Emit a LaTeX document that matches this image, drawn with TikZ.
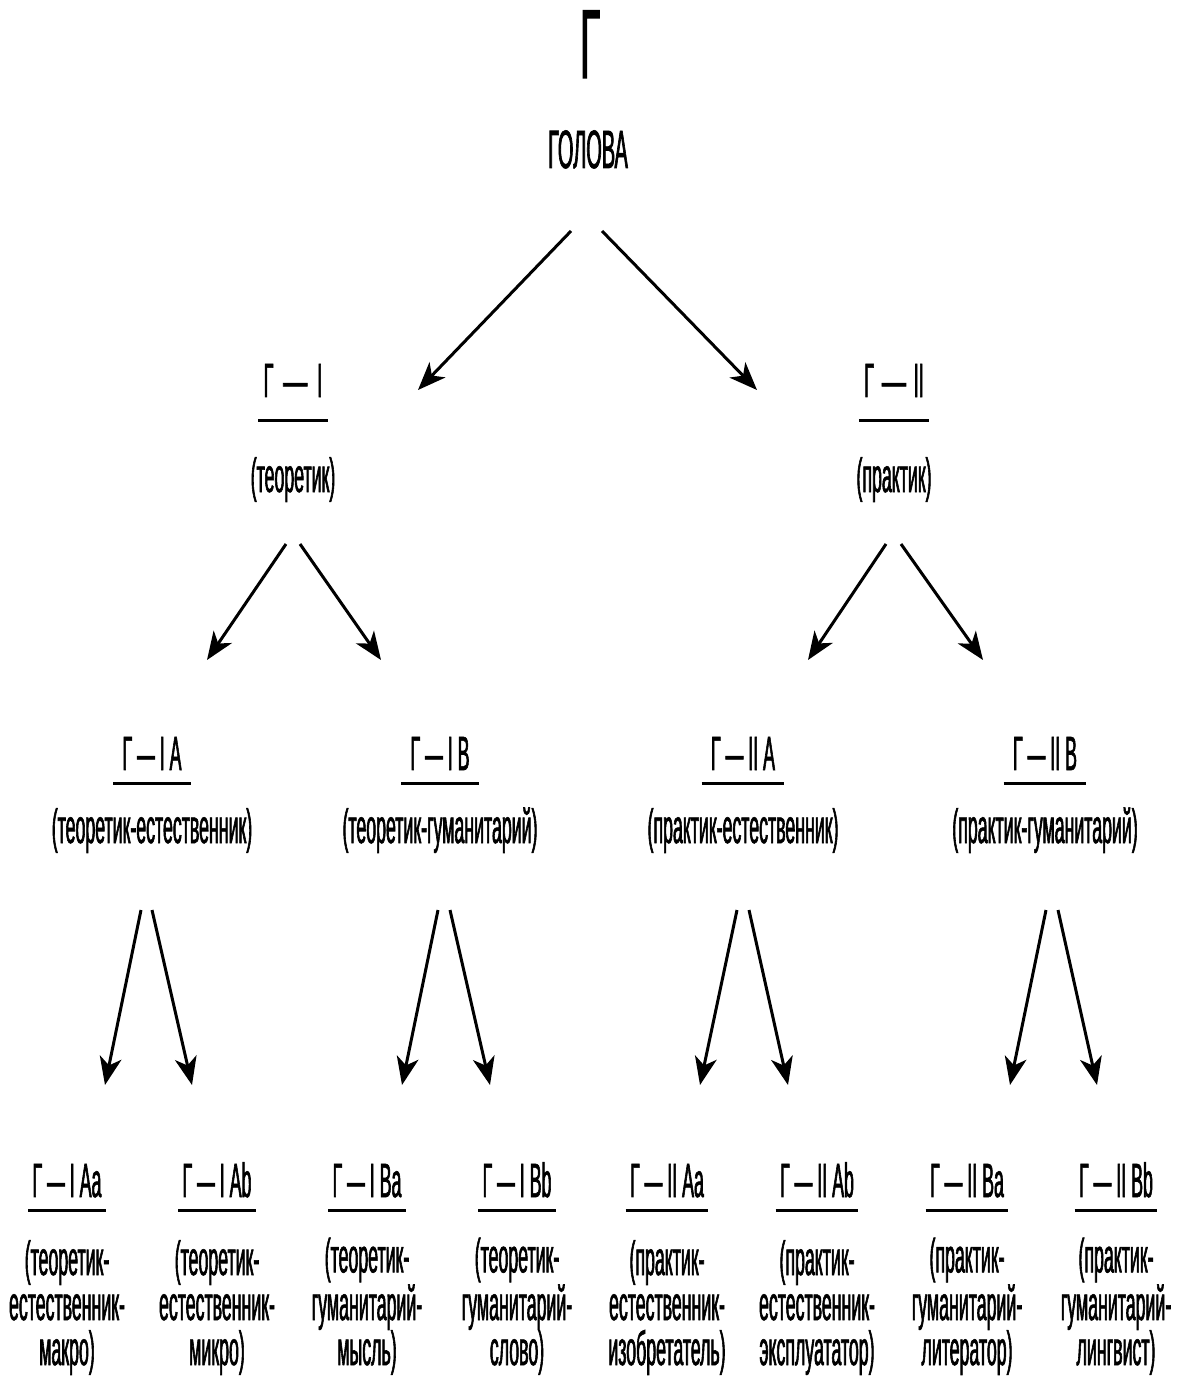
\documentclass[tikz,border=0pt]{standalone}
\usepackage{fontspec}
\usepackage{graphicx}
\setmainfont{Liberation Sans}[FakeStretch=0.37,FakeBold=1.2]
\usetikzlibrary{arrows.meta}
\newcommand\mklab[6][]{%
  \node[lab,#1] (#2) at (#3,#4) {#5};
  \draw[ul] (#2.west |- 0,#6) -- (#2.east |- 0,#6);}
\newcommand\longdash{\scalebox{1.35}[1]{—}}
\begin{document}
\begin{tikzpicture}[x=0.5pt,y=-0.5pt,
  lab/.style={font=\fontsize{24}{24}\selectfont, anchor=base, inner xsep=2pt, inner ysep=0pt},
  desc/.style={font=\fontsize{24}{22.5}\selectfont, anchor=base, inner sep=0pt, align=center},
  ul/.style={line width=1.5pt},
  arr/.style={line width=1.5pt, -{Stealth[length=14pt,width=11pt,inset=4pt]}}]
\useasboundingbox (0,0) rectangle (1183,1390);
% top
\node[anchor=base, inner sep=0pt, font=\fontsize{49}{49}\selectfont] (gam) at (590,78) {Г};
\node[anchor=base, inner sep=0pt, font=\fontsize{27}{27}\selectfont] (head) at (588,168) {ГОЛОВА};
% level 1
\mklab[inner xsep=2.5pt]{l1}{293}{397}{Г\hspace{5pt}\longdash\hspace{5pt}I}{420}
\node[desc] (d1) at (293,492) {(теоретик)};
\mklab[inner xsep=2.5pt]{r1}{894}{397}{Г\hspace{4pt}\longdash\hspace{4pt}II}{420}
\node[desc] (d2) at (894,492) {(практик)};
% level 2
\mklab[inner xsep=4.5pt]{la}{152}{770}{Г — I A}{783}
\node[desc] (dla) at (152,843) {(теоретик-естественник)};
\mklab[inner xsep=4.5pt]{lb}{440}{770}{Г — I B}{783}
\node[desc] (dlb) at (440,843) {(теоретик-гуманитарий)};
\mklab[inner xsep=4.5pt]{ra}{743}{770}{Г — II A}{783}
\node[desc] (dra) at (743,843) {(практик-естественник)};
\mklab[inner xsep=4.5pt]{rb}{1045}{770}{Г — II B}{783}
\node[desc] (drb) at (1045,843) {(практик-гуманитарий)};
% level 3
\mklab{laa}{67}{1197}{Г — I Aa}{1210}
\node[desc] (dlaa) at (67,1365) {(теоретик-\\естественник-\\макро)};
\mklab{lab}{217}{1197}{Г — I Ab}{1210}
\node[desc] (dlab) at (217,1365) {(теоретик-\\естественник-\\микро)};
\mklab{lba}{367}{1197}{Г — I Ba}{1210}
\node[desc] (dlba) at (367,1365) {(теоретик-\\гуманитарий-\\мысль)};
\mklab{lbb}{517}{1197}{Г — I Bb}{1210}
\node[desc] (dlbb) at (517,1365) {(теоретик-\\гуманитарий-\\слово)};
\mklab{raa}{667}{1197}{Г — II Aa}{1210}
\node[desc] (draa) at (667,1365) {(практик-\\естественник-\\изобретатель)};
\mklab{rab}{817}{1197}{Г — II Ab}{1210}
\node[desc] (drab) at (817,1365) {(практик-\\естественник-\\эксплуататор)};
\mklab{rba}{967}{1197}{Г — II Ba}{1210}
\node[desc] (drba) at (967,1365) {(практик-\\гуманитарий-\\литератор)};
\mklab{rbb}{1116}{1197}{Г — II Bb}{1210}
\node[desc] (drbb) at (1116,1365) {(практик-\\гуманитарий-\\лингвист)};
% arrow end points
\coordinate (s0a) at (571,231); \coordinate (e0a) at (418,390);
\coordinate (s0b) at (602,231); \coordinate (e0b) at (757,390);
\coordinate (s1a) at (286,544); \coordinate (e1a) at (207,660);
\coordinate (s1b) at (300,544); \coordinate (e1b) at (381,660);
\coordinate (s2a) at (886,544); \coordinate (e2a) at (808,660);
\coordinate (s2b) at (901,544); \coordinate (e2b) at (983,660);
\coordinate (s3a) at (141,910); \coordinate (e3a) at (105,1085);
\coordinate (s3b) at (152,910); \coordinate (e3b) at (192,1085);
\coordinate (s4a) at (438,910); \coordinate (e4a) at (402,1085);
\coordinate (s4b) at (450,910); \coordinate (e4b) at (490,1085);
\coordinate (s5a) at (737,910); \coordinate (e5a) at (700,1085);
\coordinate (s5b) at (749,910); \coordinate (e5b) at (788,1085);
\coordinate (s6a) at (1046,910); \coordinate (e6a) at (1010,1085);
\coordinate (s6b) at (1058,910); \coordinate (e6b) at (1097,1085);
\foreach \i in {0,...,6}{
  \draw[arr] (s\i a) -- (e\i a);
  \draw[arr] (s\i b) -- (e\i b);
}
\end{tikzpicture}
\end{document}
